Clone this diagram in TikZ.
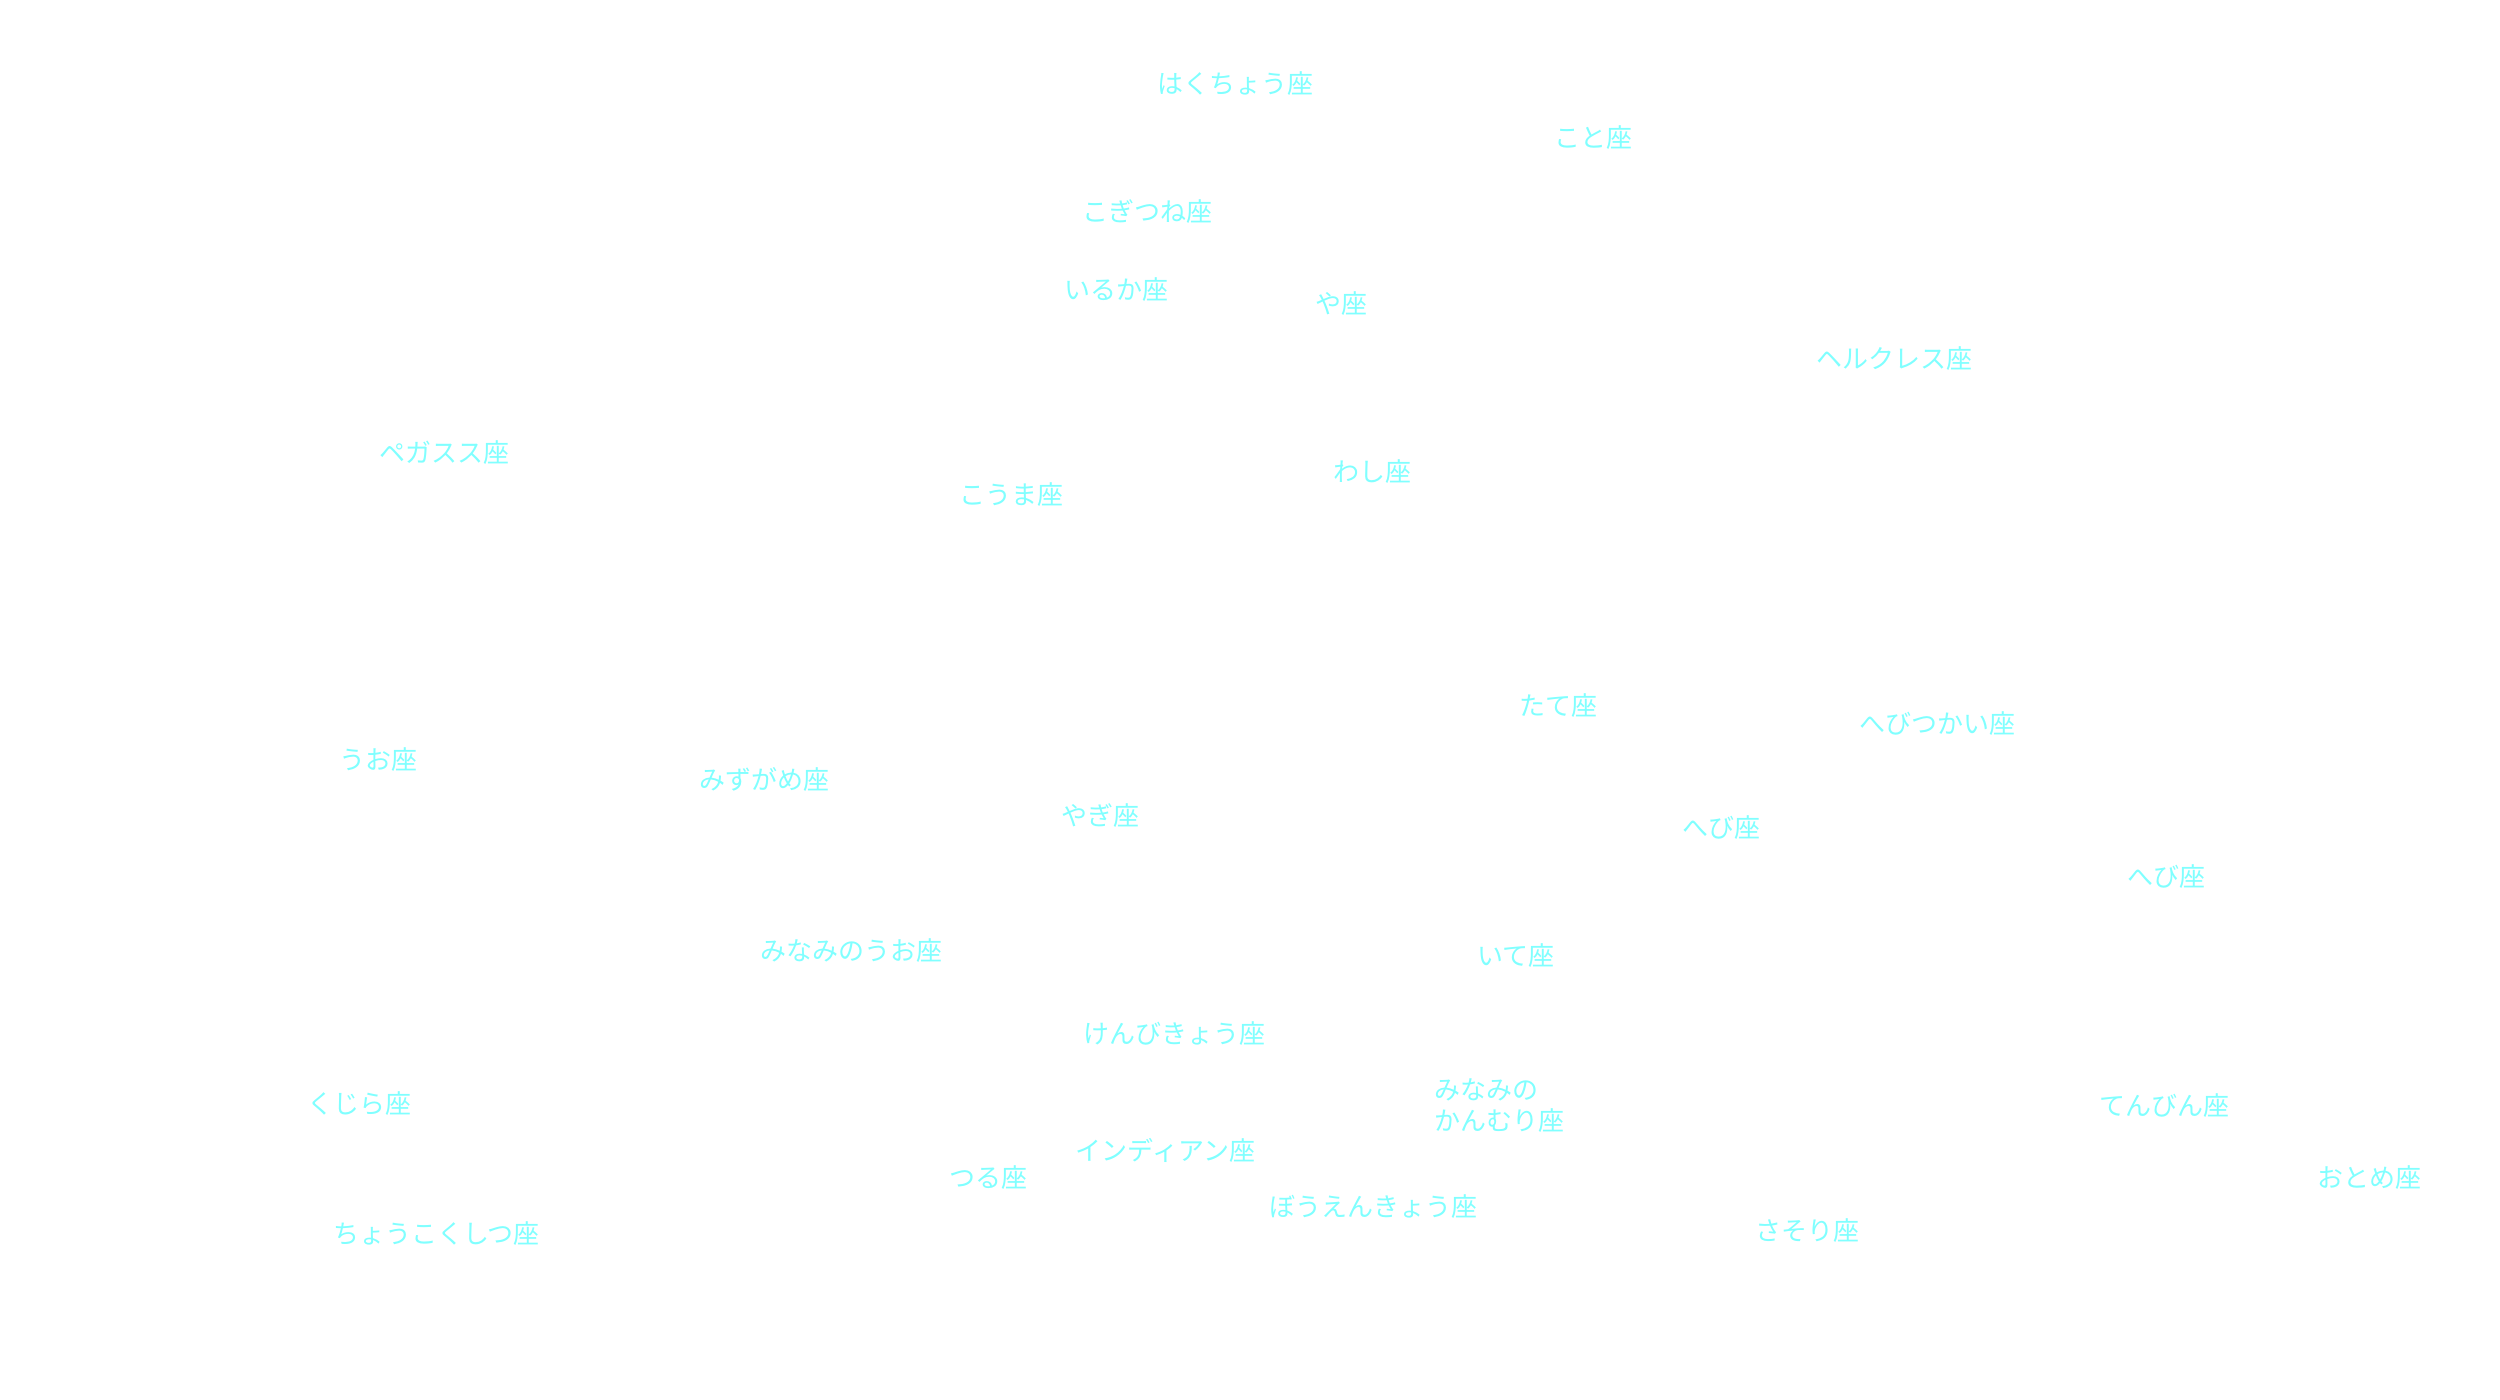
\documentclass[tikz,border=0pt]{standalone}
\usepackage{fontspec}
\newfontfamily\cjk{Noto Sans CJK JP}
\definecolor{lbl}{HTML}{80FFFF}
\begin{document}
\begin{tikzpicture}[x=0.016cm,y=-0.016cm,
  lab/.style={anchor=west,inner sep=0pt,text=lbl,font=\cjk\fontsize{7.4pt}{8.8pt}\selectfont,align=left}]
\useasboundingbox[fill=white] (3,1) rectangle (1565.5,876);
\node[lab] (n1) at (726,53) {はくちょう座};
\node[lab] (n2) at (974,87) {こと座};
\node[lab] (n3) at (679,133) {こぎつね座};
\node[lab] (n4) at (668,182) {いるか座};
\node[lab] (n5) at (825,191) {や座};
\node[lab] (n6) at (1138,225) {ヘルクレス座};
\node[lab] (n7) at (240,284) {ペガスス座};
\node[lab] (n8) at (602,310) {こうま座};
\node[lab] (n9) at (836,296) {わし座};
\node[lab] (n10) at (952,442) {たて座};
\node[lab] (n11) at (1165,453) {へびつかい座};
\node[lab] (n12) at (215,476) {うお座};
\node[lab] (n13) at (440,488) {みずがめ座};
\node[lab] (n14) at (666,511) {やぎ座};
\node[lab] (n15) at (1054,518) {へび座};
\node[lab] (n16) at (1332,549) {へび座};
\node[lab] (n17) at (478,595) {みなみのうお座};
\node[lab] (n18) at (926,598) {いて座};
\node[lab] (n19) at (680,647) {けんびきょう座};
\node[lab] (n20) at (899,692) {みなみの\\かんむり座};
\node[lab] (n21) at (1315,692) {てんびん座};
\node[lab] (n22) at (195,691) {くじら座};
\node[lab] (n23) at (675,720) {インディアン座};
\node[lab] (n24) at (596,737) {つる座};
\node[lab] (n25) at (1451,737) {おとめ座};
\node[lab] (n26) at (796,755) {ぼうえんきょう座};
\node[lab] (n27) at (1100,770) {さそり座};
\node[lab] (n28) at (211,772) {ちょうこくしつ座};
\end{tikzpicture}
\end{document}
